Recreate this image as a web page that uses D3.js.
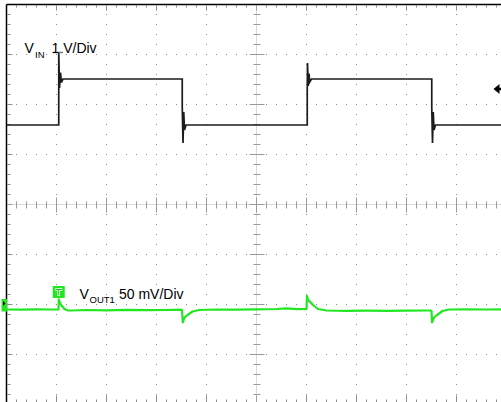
<!DOCTYPE html>
<html><head><meta charset="utf-8">
<script src="https://cdn.jsdelivr.net/npm/d3@7"></script>
<style>html,body{margin:0;padding:0;background:#fff;}svg{display:block;}</style>
</head><body>
<svg id="chart" width="501" height="402"></svg>
<script>
// ---- data (time in divisions, 10 div across; VIN in V @ 1 V/div; VOUT1 in mV @ 50 mV/div relative to its ground marker) ----
const vinTime = [0,1.045,1.045,1.06,1.08,1.10,1.13,3.515,3.515,3.53,3.545,3.56,3.59,6.015,6.015,6.02,6.035,6.05,6.065,6.10,8.505,8.505,8.52,8.535,8.55,8.58,10];
const vinVolts = [1.59,1.59,3.05,2.33,2.64,2.44,2.51,2.51,1.95,1.23,1.85,1.49,1.59,1.59,2.33,2.83,2.37,2.62,2.45,2.51,2.51,1.95,1.23,1.85,1.49,1.59,1.59];
const voutTime = [0,0.3,0.6,0.9,1.04,1.045,1.07,1.10,1.16,1.22,1.3,1.6,2.0,2.4,2.8,3.2,3.48,3.51,3.525,3.56,3.62,3.72,3.85,4.2,4.6,5.0,5.4,5.6,5.8,6.0,6.01,6.03,6.07,6.13,6.23,6.4,6.8,7.2,7.6,8.0,8.4,8.48,8.50,8.51,8.55,8.61,8.72,8.85,9.2,9.6,10];
const voutMv = [-5,-5.2,-4.8,-5,-5,5.2,1.5,-1,-4.5,-5.8,-6,-5.5,-5.8,-5.3,-5.6,-5.5,-5.2,-5.5,-17.8,-13,-10.5,-7,-5.5,-5,-5.2,-4.8,-4.5,-3.8,-4.6,-4.5,8.5,4.5,2.8,-0.5,-4.5,-6,-6.3,-6.1,-6.3,-6.2,-6,-6,-6.5,-17.8,-13,-10.5,-6.5,-5,-4.8,-5,-4.8];
const vinScale = 1;      // V/div
const voutScale = 50;    // mV/div
const vinOffsetDiv = 0;  // ch1 reference (div from centre)
const voutOffsetDiv = -2;// ch2 ground marker (div from centre)
const triggerTime = 1.045;
const triggerLevelV = 2.31;
const vinLabel = ["V", "IN", "1 V/Div"];
const voutLabel = ["V", "OUT1", "50 mV/Div"];

// ---- layout ----
const svg = d3.select("#chart");
const L = 6.5, T = 4.5, W = 500, H = 400;
const x = d3.scaleLinear().domain([0, 10]).range([L, L + W]);
const yDiv = d3.scaleLinear().domain([-4, 4]).range([T + H, T]);
const yVin = v => yDiv(vinOffsetDiv + v / vinScale);
const yVout = mv => yDiv(voutOffsetDiv + mv / voutScale);

const g = svg.append("g");
const dotCol = "#8c8c8c";
// dotted grid lines
const majorsX = d3.range(1, 10).filter(d => d !== 5);
const majorsY = d3.range(-3, 4).filter(d => d !== 0);
const minorX = d3.range(0, 10.001, 0.2);
const minorY = d3.range(-4, 4.001, 0.2);
majorsX.forEach(d => {
  minorY.forEach(m => g.append("rect").attr("x", Math.floor(x(d))).attr("y", Math.floor(yDiv(m))).attr("width", 1).attr("height", 1).attr("fill", dotCol));
});
majorsY.forEach(d => {
  minorX.forEach(m => g.append("rect").attr("x", Math.floor(x(m))).attr("y", Math.floor(yDiv(d))).attr("width", 1).attr("height", 1).attr("fill", dotCol));
});
// edge ticks
minorX.forEach(m => {
  const major = Math.abs(m - Math.round(m)) < 1e-6;
  g.append("rect").attr("x", Math.floor(x(m))).attr("y", T + 1).attr("width", 1).attr("height", major ? 5 : 2).attr("fill", dotCol);
  g.append("rect").attr("x", Math.floor(x(m))).attr("y", T + H - (major ? 9 : 5)).attr("width", 1).attr("height", major ? 8 : 3).attr("fill", dotCol);
});
minorY.forEach(m => {
  const major = Math.abs(m - Math.round(m)) < 1e-6;
  g.append("rect").attr("x", L + 1).attr("y", Math.floor(yDiv(m))).attr("width", major ? 5 : 3).attr("height", 1).attr("fill", dotCol);
});
// centre crosshair
g.append("line").attr("x1", x(5)).attr("x2", x(5)).attr("y1", T).attr("y2", T + H).attr("stroke", "#b5b5b5").attr("stroke-dasharray", "1,1");
g.append("line").attr("x1", L).attr("x2", L + W).attr("y1", yDiv(0)).attr("y2", yDiv(0)).attr("stroke", "#b5b5b5").attr("stroke-dasharray", "1,1");
minorY.forEach(m => {
  const major = Math.abs(m - Math.round(m)) < 1e-6;
  const hw = major ? 7 : 3;
  g.append("line").attr("x1", x(5) - hw).attr("x2", x(5) + hw + 1).attr("y1", Math.floor(yDiv(m)) + 0.5).attr("y2", Math.floor(yDiv(m)) + 0.5).attr("stroke", "#9a9a9a");
});
minorX.forEach(m => {
  const major = Math.abs(m - Math.round(m)) < 1e-6;
  const hh = major ? 7 : 3;
  g.append("line").attr("y1", yDiv(0) - hh).attr("y2", yDiv(0) + hh + 1).attr("x1", Math.floor(x(m)) + 0.5).attr("x2", Math.floor(x(m)) + 0.5).attr("stroke", "#9a9a9a");
});
// frame (top + left visible)
g.append("line").attr("x1", L).attr("x2", L + W).attr("y1", T).attr("y2", T).attr("stroke", "#000").attr("stroke-width", 1.5);
g.append("line").attr("x1", L).attr("x2", L).attr("y1", T).attr("y2", T + H).attr("stroke", "#000").attr("stroke-width", 1.5);

// ---- traces ----
const vinLine = d3.line().x((d, i) => x(vinTime[i])).y((d, i) => yVin(vinVolts[i]));
svg.append("path").attr("d", vinLine(vinTime)).attr("fill", "none").attr("stroke", "#1c1c1c").attr("stroke-width", 1.7).attr("stroke-linejoin", "miter");
const voutLine = d3.line().x((d, i) => x(voutTime[i])).y((d, i) => yVout(voutMv[i]));
svg.append("path").attr("d", voutLine(voutTime)).attr("fill", "none").attr("stroke", "#22e622").attr("stroke-width", 2.2).attr("stroke-linejoin", "round");

// ---- markers ----
const gy = yVout(0);
svg.append("rect").attr("x", 1.5).attr("y", gy - 5.5).attr("width", 5.5).attr("height", 12.5).attr("fill", "#22e622");
svg.append("path").attr("d", `M3,${gy - 3.5} L5.5,${gy - 1} L3,${gy + 1.5} Z`).attr("fill", "#000");
const tx = x(triggerTime);
svg.append("rect").attr("x", tx - 6).attr("y", 286).attr("width", 12).attr("height", 12).attr("fill", "#22e622");
svg.append("path").attr("d", `M${tx - 3.5},289.5 H${tx + 3.5} M${tx},289.5 V296`).attr("stroke", "#fff").attr("stroke-width", 2.6).attr("fill", "none");
svg.append("path").attr("d", `M${tx - 3},289.5 H${tx + 3} M${tx},289.5 V295.5`).attr("stroke", "#1cc01c").attr("stroke-width", 1).attr("fill", "none");
const ty = yVin(triggerLevelV);
svg.append("path").attr("d", `M493.5,${ty} L499.5,${ty - 5} L499.5,${ty - 1.2} L502,${ty - 1.2} L502,${ty + 1.2} L499.5,${ty + 1.2} L499.5,${ty + 5} Z`).attr("fill", "#000");
svg.append("line").attr("x1", 53).attr("x2", 63).attr("y1", 52.5).attr("y2", 52.5).attr("stroke", "#7a7a7a").attr("stroke-width", 1.5);

// ---- labels ----
const font = "Liberation Sans, Arial, sans-serif";
const t1 = svg.append("text").attr("font-family", font).attr("fill", "#000");
t1.append("tspan").attr("x", 24.5).attr("y", 53).attr("font-size", 14).text(vinLabel[0]);
t1.append("tspan").attr("x", 35).attr("y", 57.5).attr("font-size", 9.5).text(vinLabel[1]);
t1.append("tspan").attr("x", 51.5).attr("y", 53).attr("font-size", 14).text(vinLabel[2]);
const t2 = svg.append("text").attr("font-family", font).attr("fill", "#000");
t2.append("tspan").attr("x", 79.5).attr("y", 298.5).attr("font-size", 14).text(voutLabel[0]);
t2.append("tspan").attr("x", 89.5).attr("y", 302.5).attr("font-size", 9.5).text(voutLabel[1]);
t2.append("tspan").attr("x", 119).attr("y", 298.5).attr("font-size", 14).text(voutLabel[2]);
</script>
</body></html>
